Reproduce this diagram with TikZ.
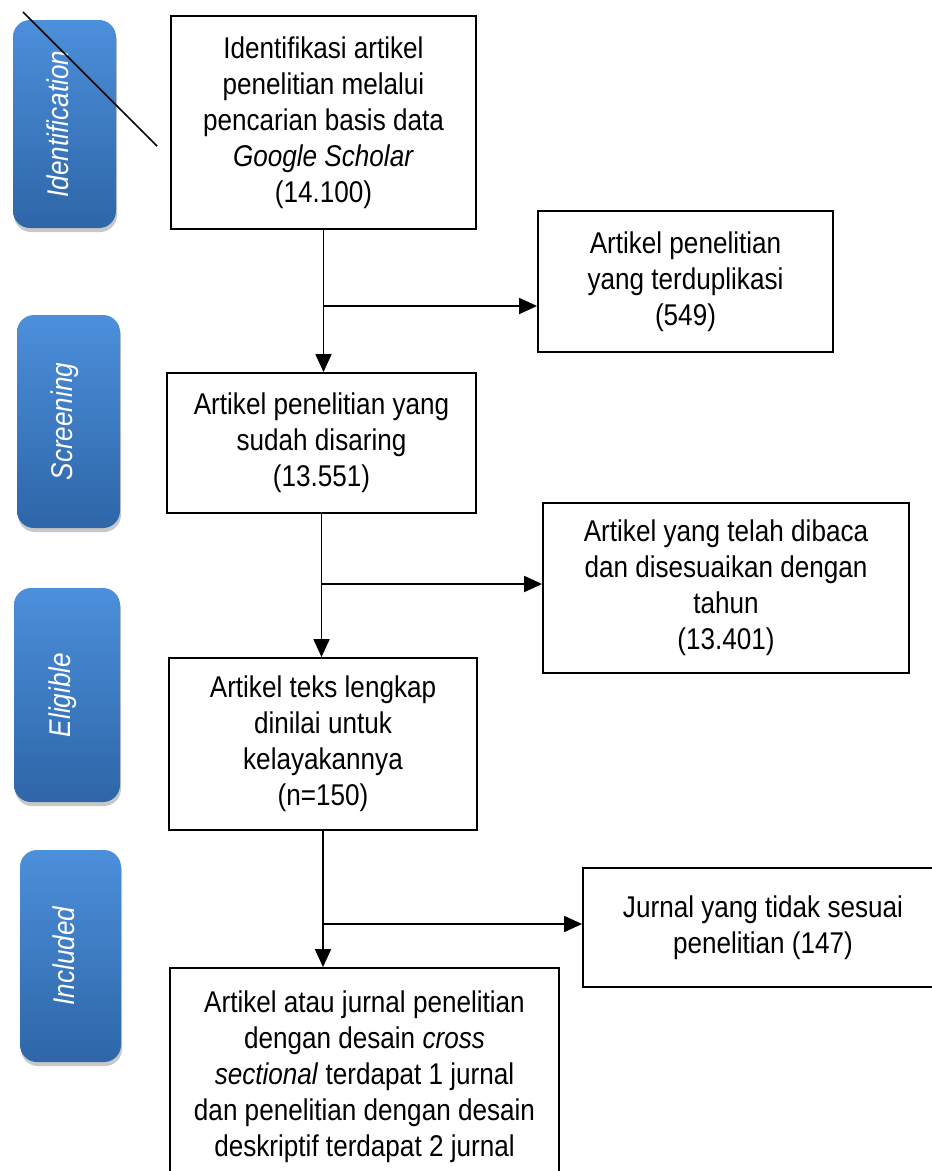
\documentclass[tikz,border=0pt]{standalone}
\usepackage{fontspec}
\usepackage{graphicx}
\setmainfont{Liberation Sans}[FakeStretch=0.87]
\usetikzlibrary{arrows.meta,shadows}
\definecolor{phasetop}{HTML}{4C8FDB}
\definecolor{phasebot}{HTML}{2E66A8}
\newcommand{\phasetext}[1]{\rotatebox{90}{\raisebox{0pt}[\height][14pt]{#1}}}
\tikzset{
  x=1pt, y=-1pt,
  every node/.style={font=\fontsize{30}{36}\selectfont},
  box/.style={draw=black, line width=1.8pt, fill=white, align=center, inner sep=0pt},
  phase/.style={rounded corners=17pt, top color=phasetop, bottom color=phasebot,
    draw=none, inner sep=0pt, text=white,
    drop shadow={shadow xshift=1pt, shadow yshift=-4pt, opacity=0.3, fill=black!70},
    font=\fontsize{30}{36}\selectfont\itshape},
  arr/.style={line width=1.8pt, -{Triangle[length=18pt,width=16pt]}},
  ln/.style={line width=1.6pt}
}
\begin{document}
\begin{tikzpicture}
\useasboundingbox (0,0) rectangle (932,1171);
\clip (0,0) rectangle (932,1171);
\fill[white] (0,0) rectangle (932,1171);

% phase labels
\node[phase, minimum width=103pt, minimum height=208pt] (p1) at (64.5,124) {\phasetext{Identification}};
\node[phase, minimum width=103pt, minimum height=213pt] (p2) at (68.5,421.5) {\phasetext{Screening}};
\node[phase, minimum width=106pt, minimum height=214pt] (p3) at (67,695) {\phasetext{Eligible}};
\node[phase, minimum width=101pt, minimum height=212pt] (p4) at (70.5,956) {\phasetext{Included}};

% boxes
\node[box, minimum width=305pt, minimum height=213pt] (b1) at (323.5,122.5)
  {Identifikasi artikel\\penelitian melalui\\pencarian basis data\\\textit{Google Scholar}\\(14.100)};
\node[box, minimum width=295pt, minimum height=141pt] (dup) at (685.5,281.5)
  {Artikel penelitian\\yang terduplikasi\\(549)};
\node[box, minimum width=309pt, minimum height=140pt] (b2) at (321.5,443)
  {Artikel penelitian yang\\sudah disaring\\(13.551)};
\node[box, minimum width=366pt, minimum height=170pt] (rd) at (726,588)
  {Artikel yang telah dibaca\\dan disesuaikan dengan\\tahun\\(13.401)};
\node[box, minimum width=308pt, minimum height=172pt] (b3) at (323,744)
  {Artikel teks lengkap\\dinilai untuk\\kelayakannya\\(n=150)};
\node[box, minimum width=360pt, minimum height=119pt] (jur) at (763,927.5)
  {Jurnal yang tidak sesuai\\penelitian (147)};
\node[box, minimum width=389pt, minimum height=217pt] (fin) at (364.5,1076.5)
  {Artikel atau jurnal penelitian\\dengan desain \textit{cross}\\\textit{sectional} terdapat 1 jurnal\\dan penelitian dengan desain\\deskriptif terdapat 2 jurnal};

% vertical flow
\draw[arr] (b1.south) -- (b1.south |- b2.north);
\draw[arr] (b2.south) -- (b2.south |- b3.north);
\draw[arr] (b3.south) -- (b3.south |- fin.north);

% branches
\coordinate (c1) at (323.5,306);
\coordinate (c2) at (321.5,584);
\coordinate (c3) at (323,924);
\draw[arr] (c1) -- (c1 -| dup.west);
\draw[arr] (c2) -- (c2 -| rd.west);
\draw[arr] (c3) -- (c3 -| jur.west);

% diagonal stroke
\coordinate (d1) at (23,12);
\coordinate (d2) at (157,146);
\draw[ln] (d1) -- (d2);
\end{tikzpicture}
\end{document}
